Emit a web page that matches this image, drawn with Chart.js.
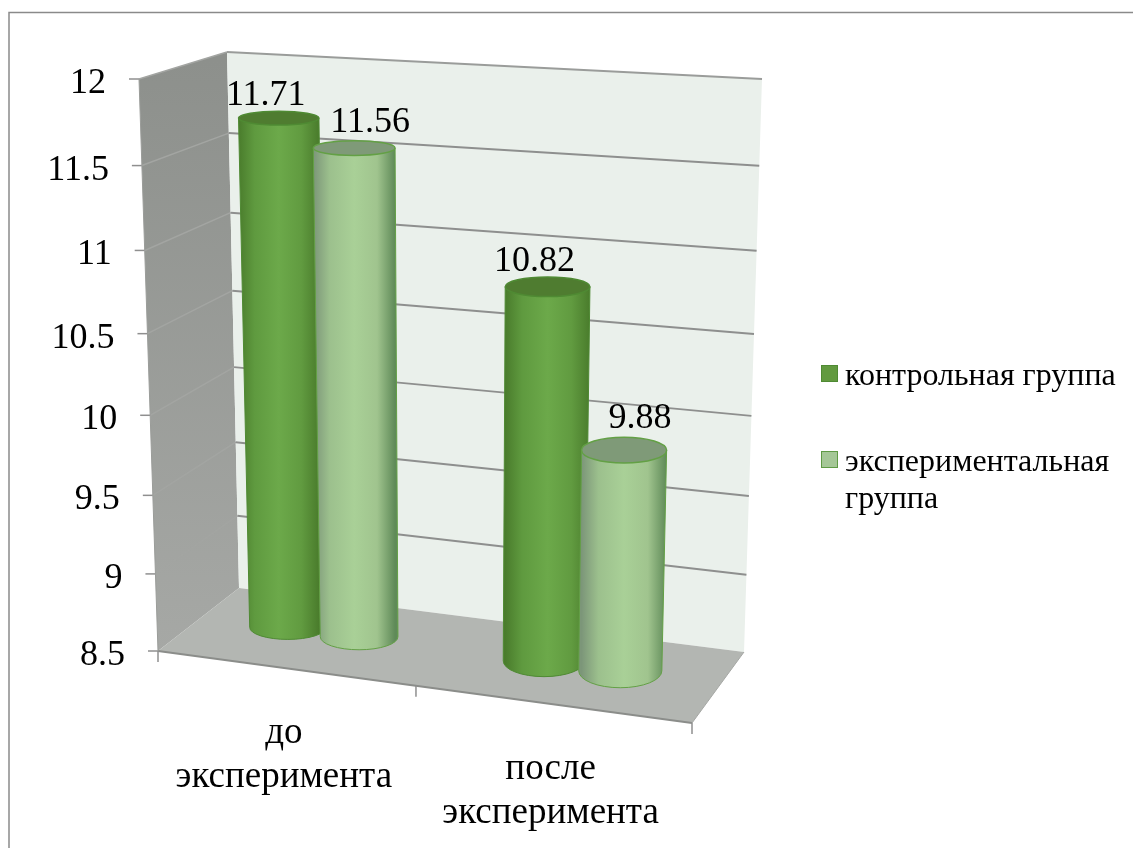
<!DOCTYPE html>
<html lang="ru">
<head>
<meta charset="utf-8">
<title>Контрольная и экспериментальная группы</title>
<script src="https://cdn.jsdelivr.net/npm/chart.js@4/dist/chart.umd.min.js"></script>
<style>
  html, body { margin: 0; padding: 0; background: #fff; }
  canvas { display: block; }
</style>
</head>
<body>
<canvas id="chart" width="1133" height="848"></canvas>
<script>
// Chart data
const categories = [['до', 'эксперимента'], ['после', 'эксперимента']];
const seriesNames = ['контрольная группа', 'экспериментальная группа'];
const controlValues = [11.71, 10.82];
const experimentValues = [11.56, 9.88];
const axisMin = 8.5;
const axisMax = 12;
const axisStep = 0.5;

const FONT = '"Liberation Serif", "Times New Roman", serif';

// Colours of each series: legend fill, side shading, top cap
const seriesStyles = [
  {
    fill: '#629a3f', cap: '#4f7c30', line: '#4f8a33', legendLine: '#4f8a33',
    shade: [[0, '#4a7c2c'], [0.2, '#5f9a3f'], [0.5, '#6ca94a'], [0.78, '#619b40'], [1, '#4a7c2c']]
  },
  {
    fill: '#a5c797', cap: '#7f9a78', line: '#63a045', legendLine: '#5f9a45',
    shade: [[0, '#7c9679'], [0.2, '#9cc08d'], [0.5, '#a9d097'], [0.78, '#a0c48e'], [1, '#5f8a58']]
  }
];

// Box corners on screen; the front-left floor corner is the chart area's own corner
const box = {
  topFrontLeft: [139, 79], topBackLeft: [227, 52], topBackRight: [762, 79], topFrontRight: [706, 110],
  floorBackLeft: [239, 588], floorBackRight: [744, 652], floorFrontRight: [692, 723]
};
const PERSPECTIVE = 1.07;  // foreshortening along the category and value axes
const BAR_DEPTH = 0.55;    // where the cylinders stand between front and back
const BAR_SHIFT = -0.005;
const BAR_WIDEN = 1.08;    // neighbouring cylinders overlap a little
// Vertical radius of the cylinder ends: grows to the right, shrinks going up
const END_RY_LEFT = 10.7;
const END_RY_RIGHT = 18.4;
const END_RY_CEILING = 6.5;

const lerp = (a, b, k) => a + (b - a) * k;
const lerp2 = (p, q, k) => [lerp(p[0], q[0], k), lerp(p[1], q[1], k)];
const foreshorten = v => v / (v + (1 - v) * PERSPECTIVE);

/**
 * Project a box position to the screen.
 * u runs along the categories, d from front to back, t from floor to ceiling (all 0..1)
 */
function project(chart, u, d, t) {
  const area = chart.chartArea;
  const floorFrontLeft = [area.left, area.bottom];
  const k = foreshorten(u);
  const floorFront = lerp2(floorFrontLeft, box.floorFrontRight, k);
  const floorBack = lerp2(box.floorBackLeft, box.floorBackRight, k);
  const topFront = lerp2(box.topFrontLeft, box.topFrontRight, k);
  const topBack = lerp2(box.topBackLeft, box.topBackRight, k);
  return lerp2(lerp2(floorFront, floorBack, d), lerp2(topFront, topBack, d), foreshorten(t));
}

function polygon(ctx, points, fill) {
  ctx.beginPath();
  points.forEach((p, i) => (i ? ctx.lineTo(p[0], p[1]) : ctx.moveTo(p[0], p[1])));
  ctx.closePath();
  ctx.fillStyle = fill;
  ctx.fill();
}

function segment(ctx, a, b, color, width) {
  ctx.beginPath();
  ctx.moveTo(a[0], a[1]);
  ctx.lineTo(b[0], b[1]);
  ctx.strokeStyle = color;
  ctx.lineWidth = width;
  ctx.stroke();
}

/**
 * Outer frame, walls, floor and grid
 */
function drawBox(chart) {
  const ctx = chart.ctx;
  const P = (u, d, t) => project(chart, u, d, t);
  const yScale = chart.scales.y;

  ctx.save();
  ctx.beginPath();
  ctx.moveTo(9, 848);
  ctx.lineTo(9, 12.5);
  ctx.lineTo(1133, 12.5);
  ctx.strokeStyle = '#8a8a8a';
  ctx.lineWidth = 1.5;
  ctx.stroke();

  const wall = ctx.createLinearGradient(0, 60, 0, 650);
  wall.addColorStop(0, '#8d908c');
  wall.addColorStop(1, '#a6a8a5');
  polygon(ctx, [P(0, 0, 0), P(0, 1, 0), P(0, 1, 1), P(0, 0, 1)], wall);
  polygon(ctx, [P(0, 1, 0), P(1, 1, 0), P(1, 1, 1), P(0, 1, 1)], '#eaf0eb');
  polygon(ctx, [P(0, 0, 0), P(1, 0, 0), P(1, 1, 0), P(0, 1, 0)], '#b3b6b2');

  yScale.ticks.forEach(tick => {
    const t = (yScale.bottom - yScale.getPixelForValue(tick.value)) / yScale.height;
    const front = P(0, 0, t);
    const back = P(0, 1, t);
    if (t > 0) {
      segment(ctx, front, back, '#a3a5a2', 1.5);
      segment(ctx, back, P(1, 1, t), t === 1 ? '#9a9c9a' : '#8e8f8e', 2);
    }
    segment(ctx, [front[0] - 10, front[1]], front, '#8f8f8f', 1.5);
  });

  // Floor and wall outlines
  segment(ctx, P(0, 0, 0), P(1, 0, 0), '#8b8d8a', 2);
  segment(ctx, P(1, 0, 0), P(1, 1, 0), '#a5a7a4', 1);
  segment(ctx, P(0, 0, 0), P(0, 0, 1), '#9a9c99', 1);
  [0, 0.5, 1].forEach(u => {
    const p = P(u, 0, 0);
    segment(ctx, p, [p[0], p[1] + 11], '#8f8f8f', 1.5);
  });
  ctx.restore();
}

/**
 * One cylinder, built from a bar element's position on the scales
 */
function drawCylinder(chart, bar, style) {
  const ctx = chart.ctx;
  const area = chart.chartArea;
  const u = (bar.x - area.left) / area.width + BAR_SHIFT;
  const halfU = bar.width / area.width / 2 * BAR_WIDEN;
  const t = (area.bottom - bar.y) / area.height;
  const floorRy = lerp(END_RY_LEFT, END_RY_RIGHT, foreshorten(u));

  const end = level => {
    const left = project(chart, u - halfU, BAR_DEPTH, level);
    const right = project(chart, u + halfU, BAR_DEPTH, level);
    return {
      cx: (left[0] + right[0]) / 2,
      cy: project(chart, u, BAR_DEPTH, level)[1],
      rx: (right[0] - left[0]) / 2,
      ry: lerp(floorRy, END_RY_CEILING, foreshorten(level))
    };
  };
  const base = end(0);
  const top = end(t);

  const shade = ctx.createLinearGradient(top.cx - top.rx, 0, top.cx + top.rx, 0);
  style.shade.forEach(stop => shade.addColorStop(stop[0], stop[1]));

  ctx.save();
  ctx.beginPath();
  ctx.moveTo(top.cx - top.rx, top.cy);
  ctx.lineTo(base.cx - base.rx, base.cy);
  ctx.ellipse(base.cx, base.cy, base.rx, base.ry, 0, Math.PI, 0, true);
  ctx.lineTo(top.cx + top.rx, top.cy);
  ctx.closePath();
  ctx.fillStyle = shade;
  ctx.fill();
  ctx.strokeStyle = style.line;
  ctx.lineWidth = 1;
  ctx.stroke();

  ctx.beginPath();
  ctx.ellipse(top.cx, top.cy, top.rx, top.ry, 0, 0, Math.PI * 2);
  ctx.fillStyle = style.cap;
  ctx.fill();
  ctx.strokeStyle = style.line;
  ctx.lineWidth = 1.5;
  ctx.stroke();
  ctx.restore();

  return { x: top.cx, y: top.cy - top.ry };
}

/**
 * Tick labels on both axes
 */
function drawAxisLabels(chart) {
  const ctx = chart.ctx;
  const yScale = chart.scales.y;
  const xScale = chart.scales.x;
  ctx.save();
  ctx.fillStyle = '#000';
  ctx.font = '36px ' + FONT;
  ctx.textAlign = 'right';
  ctx.textBaseline = 'alphabetic';
  yScale.ticks.forEach(tick => {
    const t = (yScale.bottom - yScale.getPixelForValue(tick.value)) / yScale.height;
    const front = project(chart, 0, 0, t);
    ctx.fillText(tick.label, front[0] - 33, front[1] + 14);
  });

  ctx.font = '37px ' + FONT;
  ctx.textAlign = 'center';
  xScale.ticks.forEach((tick, i) => {
    const u = (xScale.getPixelForTick(i) - chart.chartArea.left) / chart.chartArea.width;
    const p = project(chart, u, 0, 0);
    categories[i].forEach((line, n) => {
      ctx.fillText(line, p[0] - 1, p[1] + 75 + n * 44);
    });
  });
  ctx.restore();
}

/**
 * Legend on the right; the long name wraps onto a second line
 */
function drawLegend(chart) {
  const ctx = chart.ctx;
  const rows = [
    { boxY: 365, textY: [385], lines: [seriesNames[0]] },
    { boxY: 451, textY: [471, 508], lines: ['экспериментальная', 'группа'] }
  ];
  ctx.save();
  ctx.font = '32px ' + FONT;
  ctx.textAlign = 'left';
  ctx.textBaseline = 'alphabetic';
  rows.forEach((row, i) => {
    ctx.fillStyle = chart.data.datasets[i].backgroundColor;
    ctx.strokeStyle = seriesStyles[i].legendLine;
    ctx.lineWidth = 1;
    ctx.fillRect(821, row.boxY, 17, 17);
    ctx.strokeRect(821.5, row.boxY + 0.5, 16, 16);
    ctx.fillStyle = '#000';
    row.lines.forEach((line, n) => ctx.fillText(line, 845, row.textY[n]));
  });
  ctx.restore();
}

// Nudge of the value labels for each series, off the cylinder's cap
const valueLabelShift = [-13, 16];
const valueLabelLift = [6, 9];

const cylinderPlugin = {
  id: 'cylinderBox',
  beforeDatasetsDraw(chart) {
    drawBox(chart);
    const labels = [];
    chart.data.datasets.forEach((dataset, i) => {
      chart.getDatasetMeta(i).data.forEach((bar, j) => {
        const top = drawCylinder(chart, bar, seriesStyles[i]);
        labels.push({
          text: dataset.data[j].toFixed(2),
          x: top.x + valueLabelShift[i],
          y: top.y - valueLabelLift[i]
        });
      });
    });

    const ctx = chart.ctx;
    ctx.save();
    ctx.fillStyle = '#000';
    ctx.font = '36px ' + FONT;
    ctx.textAlign = 'center';
    ctx.textBaseline = 'alphabetic';
    labels.forEach(l => ctx.fillText(l.text, l.x, l.y));
    ctx.restore();

    drawAxisLabels(chart);
    drawLegend(chart);
    return false;  // the cylinders replace the flat bars
  }
};

new Chart(document.getElementById('chart'), {
  type: 'bar',
  data: {
    labels: categories,
    datasets: [
      { label: seriesNames[0], data: controlValues, backgroundColor: seriesStyles[0].fill },
      { label: seriesNames[1], data: experimentValues, backgroundColor: seriesStyles[1].fill }
    ]
  },
  options: {
    responsive: false,
    animation: false,
    categoryPercentage: 0.57,
    barPercentage: 1,
    layout: { padding: { left: 158, right: 441, top: 79, bottom: 197 } },
    plugins: { legend: { display: false }, tooltip: { enabled: false } },
    scales: {
      x: { display: false, grid: { display: false } },
      y: {
        display: false,
        min: axisMin,
        max: axisMax,
        ticks: { stepSize: axisStep, callback: v => String(v) }
      }
    }
  },
  plugins: [cylinderPlugin]
});
</script>
</body>
</html>
